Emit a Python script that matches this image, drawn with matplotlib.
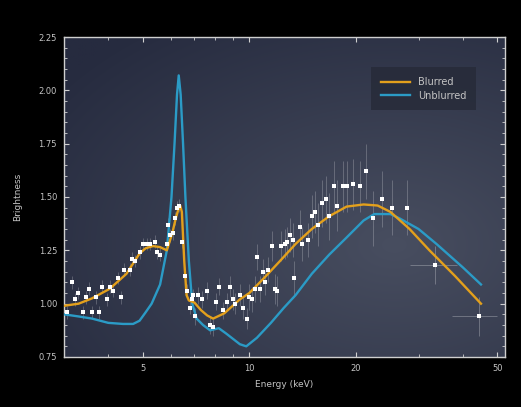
import numpy as np
import matplotlib
matplotlib.use("Agg")
import matplotlib.pyplot as plt
from matplotlib.ticker import FixedLocator, LogLocator, NullFormatter, MultipleLocator

# measured spectrum (energy in keV, brightness)
energy = [3.06, 3.16, 3.22, 3.29, 3.39, 3.46, 3.53, 3.60, 3.69, 3.77,
          3.84, 3.97, 4.04, 4.12, 4.26, 4.34, 4.43, 4.60, 4.66, 4.75,
          4.91, 5.01, 5.14, 5.24, 5.41, 5.48, 5.59, 5.85, 5.89, 5.97,
          6.08, 6.17, 6.25, 6.33, 6.45, 6.58, 6.66, 6.79, 6.88, 6.93,
          7.02, 7.15, 7.34, 7.58, 7.73, 7.89, 8.04, 8.20, 8.41, 8.63,
          8.81, 8.98, 9.09, 9.40, 9.58, 9.83, 10.0, 10.2, 10.35, 10.5,
          10.7, 10.9, 11.05, 11.27, 11.56, 11.78, 12.0, 12.3, 12.6, 12.75,
          13.0, 13.25, 13.4, 13.9, 14.1, 14.6, 15.0, 15.3, 15.6, 16.0,
          16.5, 16.8, 17.3, 17.7, 18.4, 18.9, 19.6, 20.5, 21.3, 22.3,
          23.6, 25.2, 27.8]
brightness = [0.96, 1.10, 1.02, 1.05, 0.96, 1.03, 1.07, 0.96, 1.03, 0.96,
              1.08, 1.02, 1.08, 1.06, 1.12, 1.03, 1.16, 1.16, 1.21, 1.20,
              1.24, 1.28, 1.28, 1.28, 1.29, 1.24, 1.23, 1.28, 1.37, 1.32,
              1.33, 1.40, 1.45, 1.46, 1.29, 1.13, 1.06, 0.98, 1.02, 1.04,
              0.94, 1.04, 1.02, 1.06, 0.90, 0.89, 1.01, 1.08, 0.97, 1.01,
              1.08, 1.02, 1.00, 1.04, 0.98, 0.93, 1.03, 1.02, 1.07, 1.22,
              1.07, 1.15, 1.10, 1.16, 1.27, 1.07, 1.06, 1.27, 1.28, 1.29,
              1.32, 1.30, 1.12, 1.36, 1.28, 1.30, 1.41, 1.43, 1.37, 1.47,
              1.49, 1.41, 1.55, 1.46, 1.55, 1.55, 1.56, 1.55, 1.62, 1.40,
              1.49, 1.45, 1.45]
brightness_err = [0.03, 0.03, 0.03, 0.03, 0.03, 0.03, 0.03, 0.03, 0.03, 0.03,
                  0.03, 0.03, 0.03, 0.03, 0.03, 0.03, 0.03, 0.03, 0.03, 0.03,
                  0.03, 0.03, 0.03, 0.03, 0.03, 0.03, 0.03, 0.03, 0.03, 0.03,
                  0.03, 0.03, 0.03, 0.03, 0.03, 0.03, 0.03, 0.03, 0.03, 0.03,
                  0.04, 0.04, 0.04, 0.04, 0.04, 0.04, 0.04, 0.04, 0.04, 0.04,
                  0.05, 0.05, 0.05, 0.05, 0.05, 0.05, 0.06, 0.06, 0.06, 0.06,
                  0.06, 0.06, 0.06, 0.06, 0.07, 0.07, 0.07, 0.07, 0.07, 0.07,
                  0.08, 0.08, 0.08, 0.08, 0.08, 0.08, 0.10, 0.10, 0.10, 0.11,
                  0.11, 0.11, 0.12, 0.12, 0.12, 0.12, 0.12, 0.12, 0.13, 0.13,
                  0.13, 0.13, 0.13]

# the two wide high-energy bins
wide_energy = [33.3, 44.5]
wide_brightness = [1.18, 0.94]
wide_energy_lo = [28.3, 37.4]
wide_energy_hi = [38.4, 50.0]
wide_err = [0.09, 0.09]

# models
blurred_e = [3.0, 3.3, 3.6, 4.04, 4.5, 4.9, 5.1, 5.35, 5.6, 5.85,
             6.06, 6.2, 6.3, 6.38, 6.45, 6.55, 6.65, 6.75, 7.0, 7.3,
             7.6, 7.9, 8.5, 9.4, 10.0, 11.0, 12.2, 13.5, 15.0, 16.8,
             18.8, 21.0, 23.0, 25.0, 28.3, 32.2, 38.0, 45.0]
blurred_b = [0.99, 1.00, 1.025, 1.07, 1.14, 1.235, 1.26, 1.27, 1.265, 1.25,
             1.33, 1.40, 1.44, 1.46, 1.43, 1.20, 1.04, 1.015, 1.005, 0.97,
             0.945, 0.93, 0.955, 1.02, 1.05, 1.12, 1.20, 1.28, 1.35, 1.41,
             1.455, 1.465, 1.46, 1.43, 1.35, 1.25, 1.13, 1.00]

unblurred_e = [3.0, 3.3, 3.6, 4.0, 4.4, 4.7, 4.9, 5.1, 5.3, 5.6,
               5.85, 6.03, 6.15, 6.25, 6.32, 6.4, 6.5, 6.6, 6.75, 6.9,
               7.1, 7.4, 7.75, 8.2, 8.6, 9.4, 9.8, 10.5, 11.5, 12.5,
               13.5, 15.0, 16.8, 18.8, 21.0, 22.5, 25.0, 26.5, 30.0, 33.7,
               40.0, 45.0]
unblurred_b = [0.95, 0.94, 0.93, 0.91, 0.905, 0.905, 0.92, 0.96, 1.00, 1.09,
               1.25, 1.50, 1.75, 1.98, 2.07, 1.98, 1.75, 1.50, 1.20, 1.00,
               0.93, 0.90, 0.875, 0.885, 0.86, 0.81, 0.80, 0.84, 0.91, 0.98,
               1.04, 1.14, 1.23, 1.31, 1.39, 1.42, 1.42, 1.40, 1.35, 1.28,
               1.17, 1.09]

ORANGE = "#e3a01c"
BLUE = "#2b9bc6"
TEXTCOLOR = "#c4c4c4"

fig = plt.figure(figsize=(5.21, 4.07), dpi=100, facecolor="black")
ax = fig.add_axes([64/521, 50/407, 441/521, 320/407])

# soft glow background
gx, gy = np.meshgrid(np.linspace(0, 1, 300), np.linspace(0, 1, 300))
dist = np.clip(np.sqrt(((gx - 0.75) / 0.95)**2 + ((gy - 0.35) / 0.85)**2), 0, 1)
light = np.array([72, 78, 96]) / 255
dark = np.array([38, 43, 63]) / 255
grad = light * (1 - dist[..., None]) + dark * dist[..., None]
ax.imshow(grad, extent=[0, 1, 0, 1], origin="lower", transform=ax.transAxes,
          aspect="auto", zorder=0, interpolation="bilinear")

ax.set_xscale("log")

ax.errorbar(energy, brightness, yerr=brightness_err, fmt="none",
            ecolor="white", elinewidth=0.6, alpha=0.25, zorder=2)
ax.errorbar(wide_energy, wide_brightness,
            xerr=[np.subtract(wide_energy, wide_energy_lo),
                  np.subtract(wide_energy_hi, wide_energy)],
            yerr=wide_err, fmt="none", ecolor="white", elinewidth=0.6,
            alpha=0.3, zorder=2)

ax.plot(unblurred_e, unblurred_b, color=BLUE, linewidth=1.7, zorder=3,
        solid_joinstyle="round", label="Unblurred")
ax.plot(blurred_e, blurred_b, color=ORANGE, linewidth=1.7, zorder=4,
        solid_joinstyle="round", label="Blurred")

ax.plot(energy, brightness, "s", color="white", markersize=2.5,
        markeredgewidth=0, zorder=5)
ax.plot(wide_energy, wide_brightness, "s", color="white", markersize=2.5,
        markeredgewidth=0, zorder=5)

ax.set_xlim(3.0, 52.6)
ax.set_ylim(0.75, 2.25)

ax.xaxis.set_major_locator(FixedLocator([5, 10, 20, 50]))
ax.xaxis.set_major_formatter(plt.FuncFormatter(lambda v, p: f"{v:g}"))
ax.xaxis.set_minor_locator(LogLocator(base=10, subs=np.arange(2, 10)))
ax.xaxis.set_minor_formatter(NullFormatter())
ax.yaxis.set_major_locator(MultipleLocator(0.25))
ax.yaxis.set_minor_locator(MultipleLocator(0.05))
ax.yaxis.set_major_formatter(plt.FuncFormatter(lambda v, p: f"{v:.2f}"))

ax.tick_params(which="both", direction="in", top=True, right=True,
               color="#d0d0d0", labelcolor=TEXTCOLOR, labelsize=6)
ax.tick_params(which="major", length=3.5, width=0.8, pad=5)
ax.tick_params(which="minor", length=2, width=0.6)
for s in ax.spines.values():
    s.set_color("#cfcfcf")
    s.set_linewidth(1)

ax.set_xlabel("Energy (keV)", color=TEXTCOLOR, fontsize=6.5, labelpad=5)
ax.set_ylabel("Brightness", color=TEXTCOLOR, fontsize=6.5, labelpad=12)

handles, labels = ax.get_legend_handles_labels()
leg = ax.legend(handles[::-1], labels[::-1], loc="upper right",
                bbox_to_anchor=(0.945, 0.92), fontsize=7, frameon=True,
                facecolor="#272b39", edgecolor="none", framealpha=0.85,
                labelcolor=TEXTCOLOR, handlelength=3.0, borderpad=1.0,
                labelspacing=0.35, fancybox=False)

fig.savefig("out.png", dpi=100, facecolor="black")
